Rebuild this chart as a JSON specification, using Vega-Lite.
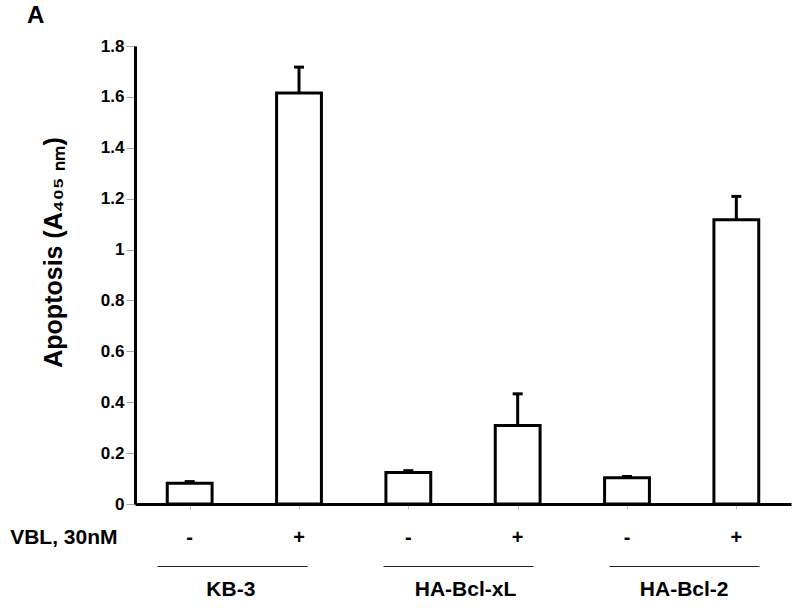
{
  "$schema": "https://vega.github.io/schema/vega-lite/v6.json",
  "width": 656,
  "height": 458,
  "autosize": "none",
  "padding": {"left": 135, "top": 46, "right": 9, "bottom": 104},
  "background": "white",
  "title": {
    "text": "A",
    "anchor": "start",
    "frame": "group",
    "dx": -108,
    "dy": 23,
    "offset": 13,
    "baseline": "alphabetic",
    "font": "Liberation Sans",
    "fontSize": 24,
    "fontWeight": "bold",
    "color": "black"
  },
  "config": {
    "view": {"stroke": null},
    "font": "Liberation Sans",
    "axis": {"grid": false}
  },
  "data": {
    "values": [
      {"cond": "KB-3 -", "group": "KB-3", "mean": 0.082, "upper": 0.088},
      {"cond": "KB-3 +", "group": "KB-3", "mean": 1.615, "upper": 1.717},
      {"cond": "HA-Bcl-xL -", "group": "HA-Bcl-xL", "mean": 0.124, "upper": 0.131},
      {"cond": "HA-Bcl-xL +", "group": "HA-Bcl-xL", "mean": 0.309, "upper": 0.433},
      {"cond": "HA-Bcl-2 -", "group": "HA-Bcl-2", "mean": 0.103, "upper": 0.108},
      {"cond": "HA-Bcl-2 +", "group": "HA-Bcl-2", "mean": 1.117, "upper": 1.209}
    ]
  },
  "resolve": {"scale": {"x": "independent"}},
  "encoding": {
    "y": {
      "field": "mean",
      "type": "quantitative",
      "scale": {"domain": [0, 1.8], "nice": false, "zero": true},
      "axis": {
        "title": "Apoptosis (A₄₀₅ ₙₘ)",
        "titleFontSize": 25,
        "titleFontWeight": "bold",
        "titleColor": "black",
        "titleAngle": -90,
        "titleX": -82,
        "titleY": 206,
        "titleAlign": "center",
        "titleBaseline": "middle",
        "values": [0, 0.2, 0.4, 0.6, 0.8, 1, 1.2, 1.4, 1.6, 1.8],
        "format": "~g",
        "labelFontSize": 17,
        "labelFontWeight": "bold",
        "labelColor": "black",
        "labelPadding": 2,
        "tickSize": 9,
        "tickColor": "#aaaaaa",
        "tickWidth": 1,
        "domainColor": "black",
        "domainWidth": 3
      }
    }
  },
  "layer": [
    {
      "mark": {"type": "point", "opacity": 0},
      "encoding": {
        "x": {
          "field": "cond",
          "type": "nominal",
          "sort": null,
          "scale": {
            "domain": ["KB-3 -", "KB-3 +", "HA-Bcl-xL -", "HA-Bcl-xL +", "HA-Bcl-2 -", "HA-Bcl-2 +"],
            "paddingInner": 0,
            "paddingOuter": 0
          },
          "axis": {
            "orient": "bottom",
            "title": null,
            "labels": false,
            "domain": false,
            "ticks": true,
            "tickSize": 5,
            "tickColor": "#bbbbbb",
            "tickWidth": 1,
            "bandPosition": 1,
            "tickExtra": true
          }
        }
      }
    },
    {
      "encoding": {
        "x": {
          "field": "cond",
          "type": "nominal",
          "sort": null,
          "scale": {
            "domain": ["KB-3 -", "KB-3 +", "HA-Bcl-xL -", "HA-Bcl-xL +", "HA-Bcl-2 -", "HA-Bcl-2 +"],
            "paddingInner": 0,
            "paddingOuter": 0
          },
          "axis": {
            "orient": "bottom",
            "title": "VBL, 30nM",
            "titleX": -18,
            "titleY": 33,
            "titleAlign": "right",
            "titleBaseline": "middle",
            "titleFontSize": 21,
            "titleFontWeight": "bold",
            "titleColor": "black",
            "labelExpr": "slice(datum.value, -1)",
            "labelAngle": 0,
            "labelFontSize": 20,
            "labelFontWeight": "bold",
            "labelColor": "black",
            "labelBaseline": "middle",
            "labelPadding": 33,
            "ticks": false,
            "tickSize": 0,
            "domainColor": "black",
            "domainWidth": 3
          }
        }
      },
      "layer": [
        {
          "mark": {"type": "rule", "stroke": "black", "strokeWidth": 3},
          "encoding": {
            "y2": {"field": "upper"}
          }
        },
        {
          "mark": {"type": "tick", "color": "black", "size": 10, "thickness": 3, "opacity": 1},
          "encoding": {
            "y": {"field": "upper", "type": "quantitative"}
          }
        },
        {
          "mark": {"type": "bar", "fill": "white", "stroke": "black", "strokeWidth": 3, "width": {"band": 0.41}},
          "encoding": {}
        }
      ]
    },
    {
      "mark": {"type": "point", "opacity": 0},
      "encoding": {
        "x": {
          "field": "group",
          "type": "nominal",
          "sort": null,
          "scale": {
            "domain": ["KB-3", "HA-Bcl-xL", "HA-Bcl-2"],
            "paddingInner": 0,
            "paddingOuter": 0
          },
          "axis": {
            "orient": "bottom",
            "offset": 62,
            "title": null,
            "domainDash": [150, 76],
            "domainDashOffset": 204,
            "domainColor": "#222222",
            "domainWidth": 1.2,
            "ticks": false,
            "tickSize": 0,
            "labelAngle": 0,
            "labelFontSize": 21,
            "labelFontWeight": "bold",
            "labelColor": "black",
            "labelBaseline": "middle",
            "labelPadding": 23,
            "labelOffset": {"condition": {"test": "datum.value === 'KB-3'", "value": -14}, "value": 2}
          }
        }
      }
    }
  ]
}
